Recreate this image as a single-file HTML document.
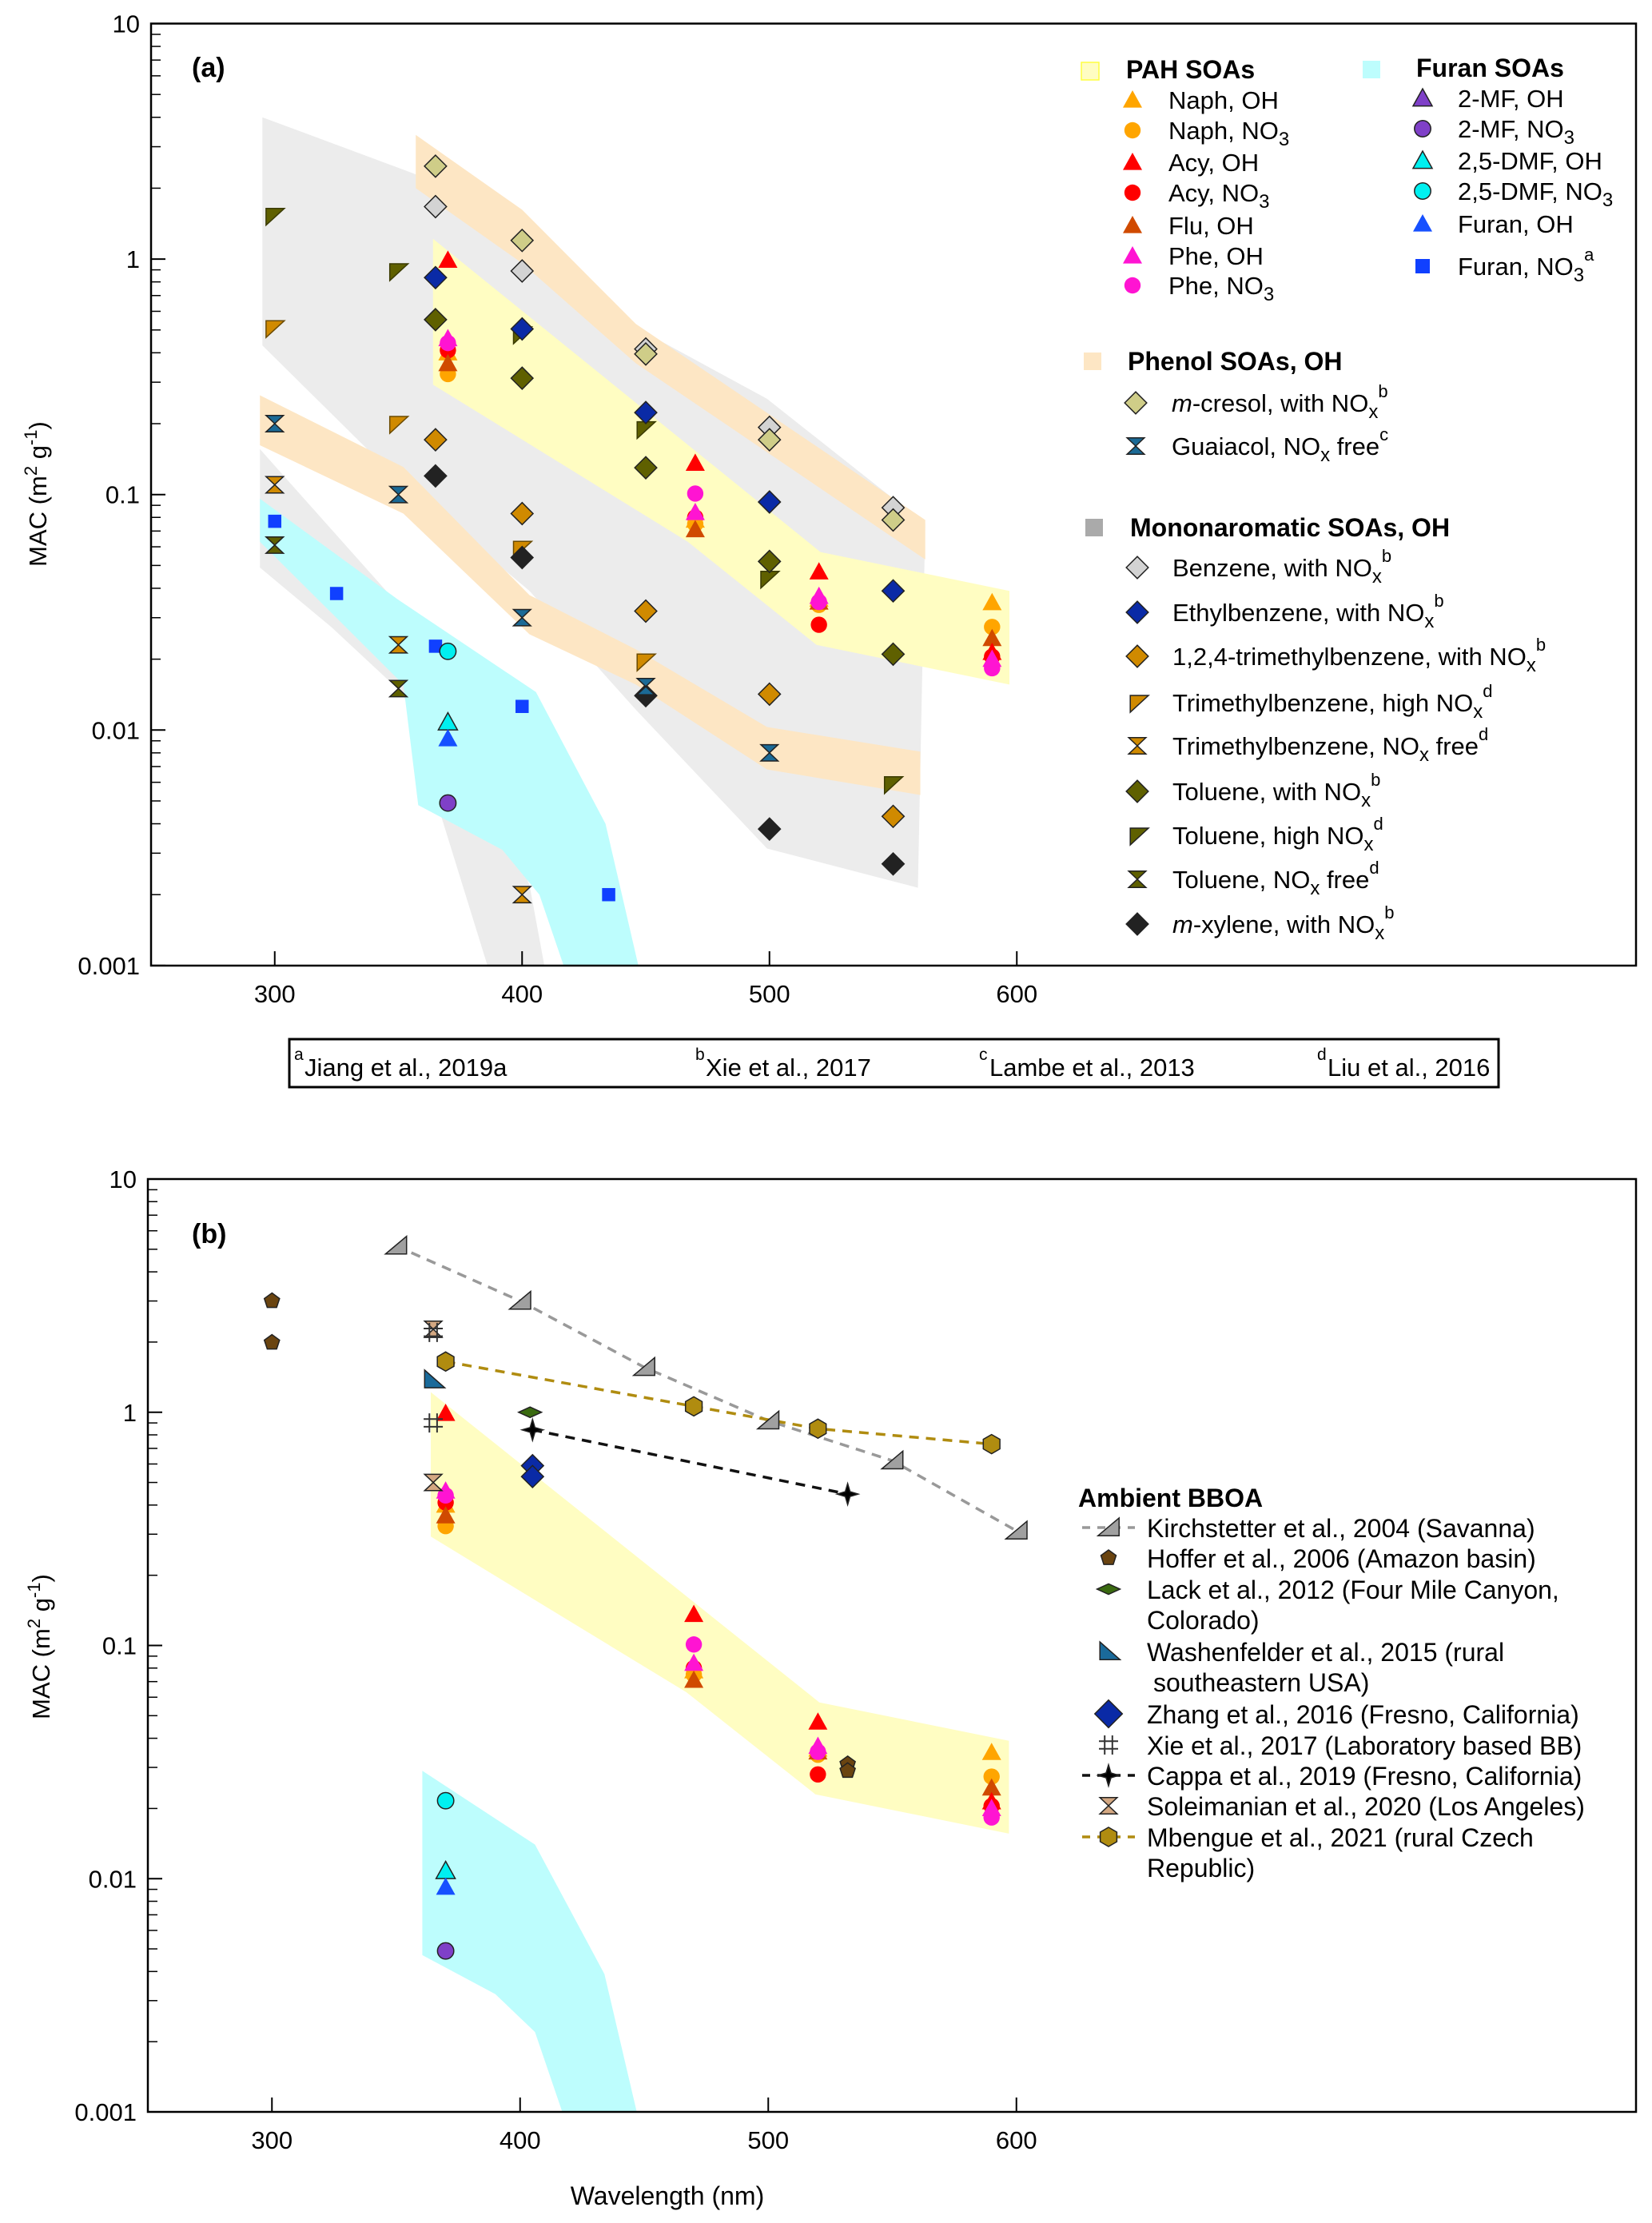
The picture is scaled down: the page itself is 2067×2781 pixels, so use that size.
<!DOCTYPE html>
<html><head><meta charset="utf-8"><style>
html,body{margin:0;padding:0;background:#fff;}
svg{display:block;font-family:"Liberation Sans",Arial,sans-serif;}
</style></head><body>
<svg id="fig" width="2067" height="2781" viewBox="0 0 2067 2781" xmlns="http://www.w3.org/2000/svg">
<g id="bandsA"></g>
<g id="bandsB"></g>
<g id="linesB"></g>
<g id="marksA"></g>
<g id="marksB"></g>
<g id="axes"></g>
<g id="legIcons"></g>

<text x="240" y="96" font-size="34" font-weight="bold">(a)</text>
<text x="240" y="1555" font-size="34" font-weight="bold">(b)</text>

<text transform="translate(58,618) rotate(-90)" text-anchor="middle" font-size="31">MAC (m<tspan dy="-12" font-size="22">2</tspan><tspan dy="12"> g</tspan><tspan dy="-12" font-size="22">-1</tspan><tspan dy="12">)</tspan></text>
<text transform="translate(62,2060) rotate(-90)" text-anchor="middle" font-size="31">MAC (m<tspan dy="-12" font-size="22">2</tspan><tspan dy="12"> g</tspan><tspan dy="-12" font-size="22">-1</tspan><tspan dy="12">)</tspan></text>
<text x="835" y="2758" text-anchor="middle" font-size="32">Wavelength (nm)</text>

<rect x="362" y="1300" width="1513" height="60" fill="none" stroke="#000" stroke-width="3"/>
<g font-size="31">
<text x="368" y="1326" font-size="21">a</text><text x="381" y="1346">Jiang et al., 2019a</text>
<text x="870" y="1326" font-size="21">b</text><text x="883" y="1346">Xie et al., 2017</text>
<text x="1225" y="1326" font-size="21">c</text><text x="1238" y="1346">Lambe et al., 2013</text>
<text x="1648" y="1326" font-size="21">d</text><text x="1661" y="1346">Liu et al., 2016</text>
</g>

<g font-size="31">
<text x="1409" y="98" font-weight="bold" font-size="32">PAH SOAs</text>
<text x="1462" y="136">Naph, OH</text>
<text x="1462" y="174">Naph, NO<tspan dy="8" font-size="24">3</tspan></text>
<text x="1462" y="214">Acy, OH</text>
<text x="1462" y="252">Acy, NO<tspan dy="8" font-size="24">3</tspan></text>
<text x="1462" y="293">Flu, OH</text>
<text x="1462" y="331">Phe, OH</text>
<text x="1462" y="368">Phe, NO<tspan dy="8" font-size="24">3</tspan></text>
<text x="1772" y="96" font-weight="bold" font-size="32">Furan SOAs</text>
<text x="1824" y="134">2-MF, OH</text>
<text x="1824" y="172">2-MF, NO<tspan dy="8" font-size="24">3</tspan></text>
<text x="1824" y="212">2,5-DMF, OH</text>
<text x="1824" y="250">2,5-DMF, NO<tspan dy="8" font-size="24">3</tspan></text>
<text x="1824" y="291">Furan, OH</text>
<text x="1824" y="344">Furan, NO<tspan dy="8" font-size="24">3</tspan><tspan dy="-26" font-size="22">a</tspan></text>
<text x="1411" y="463" font-weight="bold" font-size="32">Phenol SOAs, OH</text>
<text x="1466" y="515"><tspan font-style="italic">m</tspan>-cresol, with NO<tspan dy="8" font-size="24">x</tspan><tspan dy="-26" font-size="22">b</tspan></text>
<text x="1466" y="569">Guaiacol, NO<tspan dy="8" font-size="24">x</tspan><tspan dy="-8"> free</tspan><tspan dy="-18" font-size="22">c</tspan></text>
<text x="1414" y="671" font-weight="bold" font-size="32">Mononaromatic SOAs, OH</text>
<text x="1467" y="721">Benzene, with NO<tspan dy="8" font-size="24">x</tspan><tspan dy="-26" font-size="22">b</tspan></text>
<text x="1467" y="777">Ethylbenzene, with NO<tspan dy="8" font-size="24">x</tspan><tspan dy="-26" font-size="22">b</tspan></text>
<text x="1467" y="832">1,2,4-trimethylbenzene, with NO<tspan dy="8" font-size="24">x</tspan><tspan dy="-26" font-size="22">b</tspan></text>
<text x="1467" y="890">Trimethylbenzene, high NO<tspan dy="8" font-size="24">x</tspan><tspan dy="-26" font-size="22">d</tspan></text>
<text x="1467" y="944">Trimethylbenzene, NO<tspan dy="8" font-size="24">x</tspan><tspan dy="-8"> free</tspan><tspan dy="-18" font-size="22">d</tspan></text>
<text x="1467" y="1001">Toluene, with NO<tspan dy="8" font-size="24">x</tspan><tspan dy="-26" font-size="22">b</tspan></text>
<text x="1467" y="1056">Toluene, high NO<tspan dy="8" font-size="24">x</tspan><tspan dy="-26" font-size="22">d</tspan></text>
<text x="1467" y="1111">Toluene, NO<tspan dy="8" font-size="24">x</tspan><tspan dy="-8"> free</tspan><tspan dy="-18" font-size="22">d</tspan></text>
<text x="1467" y="1167"><tspan font-style="italic">m</tspan>-xylene, with NO<tspan dy="8" font-size="24">x</tspan><tspan dy="-26" font-size="22">b</tspan></text>
</g>

<g font-size="32">
<text x="1349" y="1885" font-weight="bold" font-size="32">Ambient BBOA</text>
<text x="1435" y="1923">Kirchstetter et al., 2004 (Savanna)</text>
<text x="1435" y="1961">Hoffer et al., 2006 (Amazon basin)</text>
<text x="1435" y="2000">Lack et al., 2012 (Four Mile Canyon,</text>
<text x="1435" y="2038">Colorado)</text>
<text x="1435" y="2078">Washenfelder et al., 2015 (rural</text>
<text x="1443" y="2116">southeastern  USA)</text>
<text x="1435" y="2156">Zhang et al., 2016 (Fresno, California)</text>
<text x="1435" y="2195">Xie et al., 2017 (Laboratory based BB)</text>
<text x="1435" y="2233">Cappa et al., 2019 (Fresno, California)</text>
<text x="1435" y="2271">Soleimanian et al., 2020 (Los Angeles)</text>
<text x="1435" y="2310">Mbengue et al., 2021 (rural Czech</text>
<text x="1435" y="2348">Republic)</text>
</g>
</svg>
<script>
const mcresolWl=[365,400,450,500,550], mcresolMac=[2.48,1.2,0.395,0.171,0.078];
const benzeneWl=[365,400,450,500,550], benzeneMac=[1.67,0.89,0.415,0.193,0.088];
const ethylWl=[365,400,450,500,550], ethylMac=[0.834,0.505,0.223,0.093,0.039];
const tmb124Wl=[365,400,450,500,550], tmb124Mac=[0.171,0.083,0.032,0.0142,0.0043];
const tolWithWl=[365,400,450,500,550], tolWithMac=[0.553,0.312,0.13,0.052,0.021];
const xyleneWl=[365,400,450,500,550], xyleneMac=[0.12,0.054,0.014,0.0038,0.0027];
const tmbHighWl=[300,350,400,450], tmbHighMac=[0.51,0.2,0.059,0.0196];
const tolHighWl=[300,350,400,450,500,550], tolHighMac=[1.53,0.89,0.48,0.19,0.044,0.0059];
const tmbFreeWl=[300,350,400], tmbFreeMac=[0.11,0.023,0.002];
const tolFreeWl=[300,350], tolFreeMac=[0.061,0.015];
const guaiacolWl=[300,350,400,450,500], guaiacolMac=[0.2,0.1,0.03,0.0153,0.008];
const furanNo3Wl=[300,325,365,400,435], furanNo3Mac=[0.077,0.038,0.0227,0.0126,0.002];
const dmfNo3Wl=[370], dmfNo3Mac=[0.0216];
const dmfOhWl=[370], dmfOhMac=[0.0108];
const furanOhWl=[370], furanOhMac=[0.0092];
const mfNo3Wl=[370], mfNo3Mac=[0.0049];
const naphOhWl=[370,470,520,590], naphOhMac=[0.4,0.078,0.036,0.0348];
const naphNo3Wl=[370,470,520,590], naphNo3Mac=[0.325,0.075,0.034,0.0274];
const acyOhWl=[370,470,520,590], acyOhMac=[0.99,0.136,0.047,0.0214];
const acyNo3Wl=[370,470,520,590], acyNo3Mac=[0.41,0.08,0.028,0.0205];
const fluOhWl=[370,470,520,590], fluOhMac=[0.36,0.071,0.035,0.0245];
const pheOhWl=[370,470,520,590], pheOhMac=[0.46,0.084,0.037,0.02];
const pheNo3Wl=[370,470,520,590], pheNo3Mac=[0.44,0.101,0.035,0.0183];
const grayBigWl=[295,357,392,446,499,563,560,499,446,403,352,295];
const grayBigMac=[4.0,2.29,1.67,0.512,0.255,0.075,0.00214,0.00314,0.0122,0.039,0.11,0.43];
const graySmallWl=[294,348,403,409,386,352,323,294];
const graySmallMac=[0.156,0.036,0.0022,0.001,0.001,0.0142,0.0273,0.049];
const cyanAWl=[294,349.5,405.6,433.7,447,416.8,407,392,358,352,323,294];
const cyanAMac=[0.096,0.036,0.0145,0.004,0.001,0.001,0.002,0.0031,0.0048,0.0156,0.0314,0.063];
const phenolUpWl=[357,400,446,563,563,446,400,357];
const phenolUpMac=[3.37,1.62,0.53,0.078,0.053,0.361,0.96,2.0];
const phenolLowWl=[294,352,403,446,499,561,561,499,446,403,352,294];
const phenolLowMac=[0.264,0.131,0.0374,0.022,0.0103,0.0081,0.0053,0.0068,0.0156,0.0255,0.083,0.162];
const pahWl=[364,520.6,597,597,519,467,364];
const pahMac=[1.22,0.057,0.039,0.0156,0.023,0.063,0.293];
const cyanBWl=[360.6,406,434,447,417,406,390,360.6];
const cyanBMac=[0.029,0.014,0.0039,0.001,0.001,0.0022,0.0032,0.0047];
const kirchWl=[350,400,450,500,550,600], kirchMac=[5.17,3.0,1.56,0.92,0.62,0.31];
const hofferWl=[300,300,532,532], hofferMac=[3.0,1.99,0.031,0.029];
const lackWl=[404], lackMac=[1.0];
const washWl=[365], washMac=[1.38];
const zhangWl=[405,405], zhangMac=[0.59,0.53];
const xieWl=[365,365], xieMac=[2.2,0.9];
const cappaWl=[405,532], cappaMac=[0.84,0.446];
const soleWl=[365,365], soleMac=[2.27,0.5];
const mbengueWl=[370,470,520,590], mbengueMac=[1.65,1.06,0.85,0.73];
const yTicks=[10,1,0.1,0.01,0.001], yTickLabels=["10","1","0.1","0.01","0.001"];
const xTicks=[300,400,500,600], xTickLabels=["300","400","500","600"];

const NS="http://www.w3.org/2000/svg";
const A={left:189,right:2047,top:29.5,bottom:1208,ppn:3.095,dec:294.6};
const B={left:185,right:2047,top:1475,bottom:2642,ppn:3.105,dec:291.75};
function xs(P,w){return P.left+(w-250)*P.ppn;}
function ys(P,v){return P.top+(1-Math.log10(v))*P.dec;}
function el(tag,attrs,parent){const e=document.createElementNS(NS,tag);for(const k in attrs)e.setAttribute(k,attrs[k]);parent.appendChild(e);return e;}
const g=id=>document.getElementById(id);

function band(P,wl,mac,fill,parent,name){
  const pts=wl.map((w,i)=>xs(P,w).toFixed(1)+","+ys(P,mac[i]).toFixed(1)).join(" ");
  const p=el("polygon",{points:pts,fill:fill},parent);
  
  
}
band(A,grayBigWl,grayBigMac,"#ececec",g("bandsA"),"mononaromatic-band");
band(A,graySmallWl,graySmallMac,"#ececec",g("bandsA"),"mononaromatic-band-low");
band(A,phenolUpWl,phenolUpMac,"#fde6c4",g("bandsA"),"phenol-band-upper");
band(A,phenolLowWl,phenolLowMac,"#fde6c4",g("bandsA"),"phenol-band-lower");
band(A,cyanAWl,cyanAMac,"#bdfdfd",g("bandsA"),"furan-band");
band(A,pahWl,pahMac,"#fffdc2",g("bandsA"),"pah-band");
band(B,pahWl,pahMac,"#fffdc2",g("bandsB"),"pah-band-b");
band(B,cyanBWl,cyanBMac,"#bdfdfd",g("bandsB"),"furan-band-b");

function shape(type,cx,cy,fill,stroke,parent,s){
  s=s||12; let e;
  const poly=pts=>el("polygon",{points:pts.map(p=>(cx+p[0]*s).toFixed(1)+","+(cy+p[1]*s).toFixed(1)).join(" "),fill:fill,stroke:stroke,"stroke-width":1.5},parent);
  if(type==="tri") e=poly([[0,-1],[1,0.8],[-1,0.8]]);
  else if(type==="circ") e=el("circle",{cx:cx,cy:cy,r:s*0.85,fill:fill,stroke:stroke,"stroke-width":1.5},parent);
  else if(type==="dia") e=poly([[0,-1.15],[1.15,0],[0,1.15],[-1.15,0]]);
  else if(type==="flatdia") e=poly([[0,-0.55],[1.2,0],[0,0.55],[-1.2,0]]);
  else if(type==="flag") e=poly([[-0.9,-0.75],[1,-0.75],[-0.9,1]]);
  else if(type==="hour") e=poly([[-0.9,-0.85],[0.9,-0.85],[-0.9,0.85],[0.9,0.85]]);
  else if(type==="sq") e=el("rect",{x:cx-s*0.75,y:cy-s*0.75,width:s*1.5,height:s*1.5,fill:fill},parent);
  else if(type==="rtri") e=poly([[-1.1,0.85],[1.1,0.85],[1.1,-1]]);
  else if(type==="ltri") e=poly([[-0.9,-1],[-0.9,0.85],[1.2,0.85]]);
  else if(type==="pent"){const pts=[];for(let k=0;k<5;k++){const a=-Math.PI/2+k*2*Math.PI/5;pts.push([Math.cos(a),Math.sin(a)]);}e=poly(pts);}
  else if(type==="hex"){const pts=[];for(let k=0;k<6;k++){const a=-Math.PI/2+k*Math.PI/3;pts.push([Math.cos(a),Math.sin(a)]);}e=poly(pts);}
  else if(type==="star") e=poly([[0,-1.1],[0.25,-0.25],[1.1,0],[0.25,0.25],[0,1.1],[-0.25,0.25],[-1.1,0],[-0.25,-0.25]]);
  else if(type==="hash"){e=el("path",{d:`M${cx-s*0.4},${cy-s} v${2*s} M${cx+s*0.4},${cy-s} v${2*s} M${cx-s},${cy-s*0.4} h${2*s} M${cx-s},${cy+s*0.4} h${2*s}`,stroke:"#333",fill:"none","stroke-width":2},parent);}
  return e;
}
function series(P,wl,mac,type,fill,stroke,parent,name,s){
  wl.forEach((w,i)=>{
    const m=shape(type,xs(P,w),ys(P,mac[i]),fill,stroke,parent,s);
    
    
  });
}
const K="#222";
const mA=g("marksA");
series(A,benzeneWl,benzeneMac,"dia","#d3d3d3",K,mA,"benzene-point");
series(A,mcresolWl,mcresolMac,"dia","#cfcd88",K,mA,"m-cresol-point");
series(A,tolHighWl,tolHighMac,"flag","#5f6000","#3a3a00",mA,"toluene-high-nox-point");
series(A,ethylWl,ethylMac,"dia","#0a2aa6",K,mA,"ethylbenzene-point");
series(A,tmb124Wl,tmb124Mac,"dia","#d08a00",K,mA,"tmb124-point");
series(A,tolWithWl,tolWithMac,"dia","#5f6000",K,mA,"toluene-with-nox-point");
series(A,tmbHighWl,tmbHighMac,"flag","#d08a00","#6a4a00",mA,"tmb-high-nox-point");
series(A,xyleneWl,xyleneMac,"dia","#222",K,mA,"m-xylene-point");
series(A,tmbFreeWl,tmbFreeMac,"hour","#d08a00",K,mA,"tmb-nox-free-point");
series(A,tolFreeWl,tolFreeMac,"hour","#5f6000",K,mA,"toluene-nox-free-point");
series(A,guaiacolWl,guaiacolMac,"hour","#1b6a96",K,mA,"guaiacol-point");
series(A,furanNo3Wl,furanNo3Mac,"sq","#1040ff","none",mA,"furan-no3-point",11);
series(A,dmfNo3Wl,dmfNo3Mac,"circ","#00f0f0",K,mA,"dmf-no3-point");
series(A,dmfOhWl,dmfOhMac,"tri","#00f0f0",K,mA,"dmf-oh-point");
series(A,furanOhWl,furanOhMac,"tri","#1650ff","none",mA,"furan-oh-point");
series(A,mfNo3Wl,mfNo3Mac,"circ","#7f40c8",K,mA,"mf-no3-point");
function pah(P,parent){
  series(P,naphOhWl,naphOhMac,"tri","#ffa500","none",parent,"naph-oh-point");
  series(P,acyNo3Wl,acyNo3Mac,"circ","#ff0000","none",parent,"acy-no3-point");
  series(P,naphNo3Wl,naphNo3Mac,"circ","#ffa500","none",parent,"naph-no3-point");
  series(P,fluOhWl,fluOhMac,"tri","#d04a00","none",parent,"flu-oh-point");
  series(P,acyOhWl,acyOhMac,"tri","#ff0000","none",parent,"acy-oh-point");
  series(P,pheOhWl,pheOhMac,"tri","#ff14d2","none",parent,"phe-oh-point");
  series(P,pheNo3Wl,pheNo3Mac,"circ","#ff14d2","none",parent,"phe-no3-point");
}
pah(A,mA);
const mB=g("marksB"), lB=g("linesB");
function line(P,wl,mac,color,name){
  const pts=wl.map((w,i)=>xs(P,w).toFixed(1)+","+ys(P,mac[i]).toFixed(1)).join(" ");
  const l=el("polyline",{points:pts,fill:"none",stroke:color,"stroke-width":3.5,"stroke-dasharray":"12,9"},lB);
  
  
}
line(B,kirchWl,kirchMac,"#999","kirchstetter-line");
line(B,mbengueWl,mbengueMac,"#b08c10","mbengue-line");
line(B,cappaWl,cappaMac,"#111","cappa-line");
pah(B,mB);
series(B,dmfNo3Wl,dmfNo3Mac,"circ","#00f0f0",K,mB,"dmf-no3-point-b");
series(B,dmfOhWl,dmfOhMac,"tri","#00f0f0",K,mB,"dmf-oh-point-b");
series(B,furanOhWl,furanOhMac,"tri","#1650ff","none",mB,"furan-oh-point-b");
series(B,mfNo3Wl,mfNo3Mac,"circ","#7f40c8",K,mB,"mf-no3-point-b");
series(B,kirchWl,kirchMac,"rtri","#a0a0a0",K,mB,"kirchstetter-point");
series(B,hofferWl,hofferMac,"pent","#6a4410",K,mB,"hoffer-point",10);
series(B,lackWl,lackMac,"flatdia","#3a6a10",K,mB,"lack-point");
series(B,washWl,washMac,"ltri","#1a6a9a",K,mB,"washenfelder-point");
series(B,zhangWl,zhangMac,"dia","#0a2aa6",K,mB,"zhang-point");
series(B,soleWl,soleMac,"hour","#d4a882",K,mB,"soleimanian-point");
series(B,xieWl,xieMac,"hash","none",K,mB,"xie-point");
series(B,cappaWl,cappaMac,"star","#000",K,mB,"cappa-point");
series(B,mbengueWl,mbengueMac,"hex","#b08c10",K,mB,"mbengue-point");

const ax=g("axes");
function axes(P,tag){
  const f=el("rect",{x:P.left,y:P.top,width:P.right-P.left,height:P.bottom-P.top,fill:"none",stroke:"#000","stroke-width":2.5},ax);
  
  
  yTicks.forEach((v,i)=>{
    const y=ys(P,v);
    const t=el("line",{x1:P.left,x2:P.left+18,y1:y,y2:y,stroke:"#000","stroke-width":2},ax);
    
    
    const lb=el("text",{x:P.left-14,y:y+11,"text-anchor":"end","font-size":31},ax);
    lb.textContent=yTickLabels[i];
    
    
    if(i<yTicks.length-1){
      for(let m=2;m<=9;m++){
        const yy=ys(P,v/10*m);
        const mt=el("line",{x1:P.left,x2:P.left+12,y1:yy,y2:yy,stroke:"#000","stroke-width":1.5},ax);
        
        
      }
    }
  });
  xTicks.forEach((w,i)=>{
    const x=xs(P,w);
    const t=el("line",{x1:x,x2:x,y1:P.bottom,y2:P.bottom-18,stroke:"#000","stroke-width":2},ax);
    
    
    const lb=el("text",{x:x,y:P.bottom+46,"text-anchor":"middle","font-size":31},ax);
    lb.textContent=xTickLabels[i];
    
    
  });
}
axes(A,"a"); axes(B,"b");

const li=g("legIcons");
function icon(type,x,y,fill,stroke,name,s){
  const e=shape(type,x,y,fill,stroke,li,s);
  
  
}
function sw(x,y,fill,stroke,name){
  const r=el("rect",{x:x-11,y:y-11,width:22,height:22,fill:fill,stroke:stroke,"stroke-width":1.5},li);
  
  
}
sw(1364,89,"#fffdc2","#ffff40","legend-swatch-pah");
sw(1716,87,"#bdfdfd","none","legend-swatch-furan");
sw(1367,452,"#fde6c4","none","legend-swatch-phenol");
sw(1369,660,"#aaaaaa","none","legend-swatch-mono");
icon("tri",1417,125,"#ffa500","none","legend-naph-oh");
icon("circ",1417,163,"#ffa500","none","legend-naph-no3");
icon("tri",1417,203,"#ff0000","none","legend-acy-oh");
icon("circ",1417,241,"#ff0000","none","legend-acy-no3");
icon("tri",1417,282,"#d04a00","none","legend-flu-oh");
icon("tri",1417,320,"#ff14d2","none","legend-phe-oh");
icon("circ",1417,357,"#ff14d2","none","legend-phe-no3");
icon("tri",1780,123,"#7f40c8",K,"legend-2mf-oh");
icon("circ",1780,161,"#7f40c8",K,"legend-2mf-no3");
icon("tri",1780,201,"#00f0f0",K,"legend-dmf-oh");
icon("circ",1780,239,"#00f0f0",K,"legend-dmf-no3");
icon("tri",1780,280,"#1650ff","none","legend-furan-oh");
icon("sq",1780,333,"#1040ff","none","legend-furan-no3");
icon("dia",1421,504,"#cfcd88",K,"legend-m-cresol");
icon("hour",1421,558,"#1b6a96",K,"legend-guaiacol");
icon("dia",1423,710,"#d3d3d3",K,"legend-benzene");
icon("dia",1423,766,"#0a2aa6",K,"legend-ethylbenzene");
icon("dia",1423,821,"#d08a00",K,"legend-tmb124");
icon("flag",1425,879,"#d08a00",K,"legend-tmb-high");
icon("hour",1423,933,"#d08a00",K,"legend-tmb-free");
icon("dia",1423,990,"#5f6000",K,"legend-toluene-with");
icon("flag",1425,1045,"#5f6000",K,"legend-toluene-high");
icon("hour",1423,1100,"#5f6000",K,"legend-toluene-free");
icon("dia",1423,1156,"#222",K,"legend-m-xylene");
function dash(y,color,name){
  const l=el("line",{x1:1354,x2:1420,y1:y,y2:y,stroke:color,"stroke-width":3.5,"stroke-dasharray":"10,9"},li);
  
  
}
dash(1911,"#999","legend-kirch-line");
dash(2221,"#111","legend-cappa-line");
dash(2298,"#b08c10","legend-mbengue-line");
icon("rtri",1387,1911,"#a0a0a0",K,"legend-kirchstetter");
icon("pent",1387,1949,"#6a4410",K,"legend-hoffer",10);
icon("flatdia",1387,1988,"#3a6a10",K,"legend-lack");
icon("ltri",1387,2066,"#1a6a9a",K,"legend-washenfelder");
icon("dia",1387,2144,"#0a2aa6",K,"legend-zhang",15);
icon("hash",1387,2183,"none",K,"legend-xie");
icon("star",1387,2221,"#000",K,"legend-cappa");
icon("hour",1387,2259,"#d4a882",K,"legend-soleimanian");
icon("hex",1387,2298,"#b08c10",K,"legend-mbengue");
</script>
</body></html>
